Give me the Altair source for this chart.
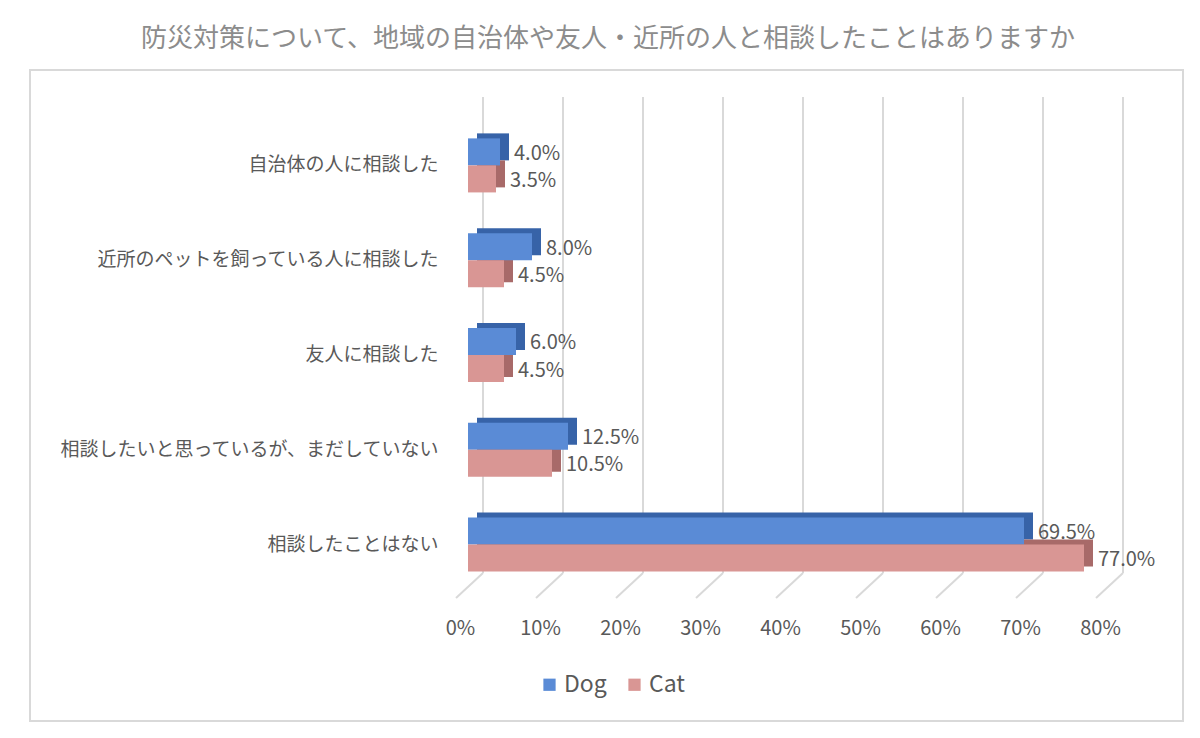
import pandas as pd
import altair as alt

# data (percent)
categories = ["自治体の人に相談した",
              "近所のペットを飼っている人に相談した",
              "友人に相談した",
              "相談したいと思っているが、まだしていない",
              "相談したことはない"]
pets = ["Dog", "Cat"]
dog = [4.0, 8.0, 6.0, 12.5, 69.5]
cat = [3.5, 4.5, 4.5, 10.5, 77.0]
ticks = [0, 10, 20, 30, 40, 50, 60, 70, 80]

front_colors = ["#5a8bd6", "#d99694"]
side_colors = {"Dog": "#3763a8", "Cat": "#a86a69"}

rows = []
for i, c in enumerate(categories):
    rows.append({"category": c, "pet": "Dog", "value": dog[i]})
    rows.append({"category": c, "pet": "Cat", "value": cat[i]})
dat = pd.DataFrame(rows)
dat["label"] = dat["value"].map(lambda v: f"{v:.1f}%")
dat["side"] = dat["pet"].map(side_colors)
tdat = pd.DataFrame({"tick": ticks})

font = "Noto Sans CJK JP"
txt = "#595959"

yscale = alt.Scale(paddingInner=0.43, paddingOuter=0.215)
yaxis = alt.Axis(title=None, ticks=False, domain=False,
                 labelFontSize=19, labelColor=txt, labelFont=font,
                 labelPadding=30, labelLimit=420)
xscale = alt.Scale(domain=[0, 80])
xaxis = alt.Axis(title=None, values=ticks, grid=False, ticks=False,
                 domain=False, labelExpr="datum.value + '%'", labelFlush=False,
                 labelFontSize=20, labelColor=txt, labelFont=font,
                 labelPadding=26, labelOffset=-8)

y_enc = alt.Y("category:N", sort=categories, scale=yscale, axis=yaxis)
yoff = alt.YOffset("pet:N", sort=pets, scale=alt.Scale(paddingInner=0))


def xq(field):
    return alt.X(field, scale=xscale, axis=xaxis)


# back gridlines (3D look) and their slanted feet
grid = (alt.Chart(tdat)
        .mark_rule(color="#d9d9d9", strokeWidth=2, xOffset=15)
        .encode(x=xq("tick:Q"), y=alt.value(-21), y2=alt.value(455)))
feet = (alt.Chart(tdat)
        .mark_rule(color="#d9d9d9", strokeWidth=2, xOffset=15, x2Offset=-12)
        .encode(x=xq("tick:Q"), x2="tick:Q", y=alt.value(455), y2=alt.value(480)))

# depth of the bars: darker copy shifted up/right
back = (alt.Chart(dat)
        .mark_bar(xOffset=9)
        .encode(x=xq("value:Q"), y=y_enc,
                yOffset=alt.YOffset("pet:N", sort=pets, scale=alt.Scale(range=[-5, 49], paddingInner=0)),
                fill=alt.Fill("side:N", scale=None)))

bars = (alt.Chart(dat)
        .mark_bar()
        .encode(x=xq("value:Q"), y=y_enc, yOffset=yoff,
                color=alt.Color("pet:N", scale=alt.Scale(domain=pets, range=front_colors),
                                legend=alt.Legend(title=None, orient="none", legendX=70, legendY=555,
                                                  direction="horizontal", symbolType="square",
                                                  symbolSize=150, symbolStrokeWidth=0,
                                                  labelFontSize=23, labelColor=txt, labelFont=font,
                                                  columnPadding=16, labelOffset=3))))

labels = (alt.Chart(dat)
          .mark_text(align="left", dx=14, dy=2, fontSize=20, color=txt, font=font)
          .encode(x=xq("value:Q"), y=y_enc, yOffset=yoff, text="label:N"))

frame = (alt.Chart(tdat.head(1))
         .mark_rect(fill=None, stroke="#d9d9d9", strokeWidth=2)
         .encode(x=alt.value(-438), x2=alt.value(715), y=alt.value(-48), y2=alt.value(603)))

chart = (alt.layer(frame, grid, feet, back, bars, labels)
         .resolve_scale(yOffset="independent")
         .properties(width=640, height=474, autosize="none",
                     padding={"left": 460, "top": 110, "right": 84, "bottom": 136},
                     title=alt.TitleParams("防災対策について、地域の自治体や友人・近所の人と相談したことはありますか",
                                           fontSize=26, font=font, color="#8c8c8c", fontWeight="normal",
                                           anchor="middle", dx=-180, offset=17, limit=1200))
         .configure_view(stroke=None))

chart.save("out.html", embed_options={"renderer": "svg", "actions": False})
